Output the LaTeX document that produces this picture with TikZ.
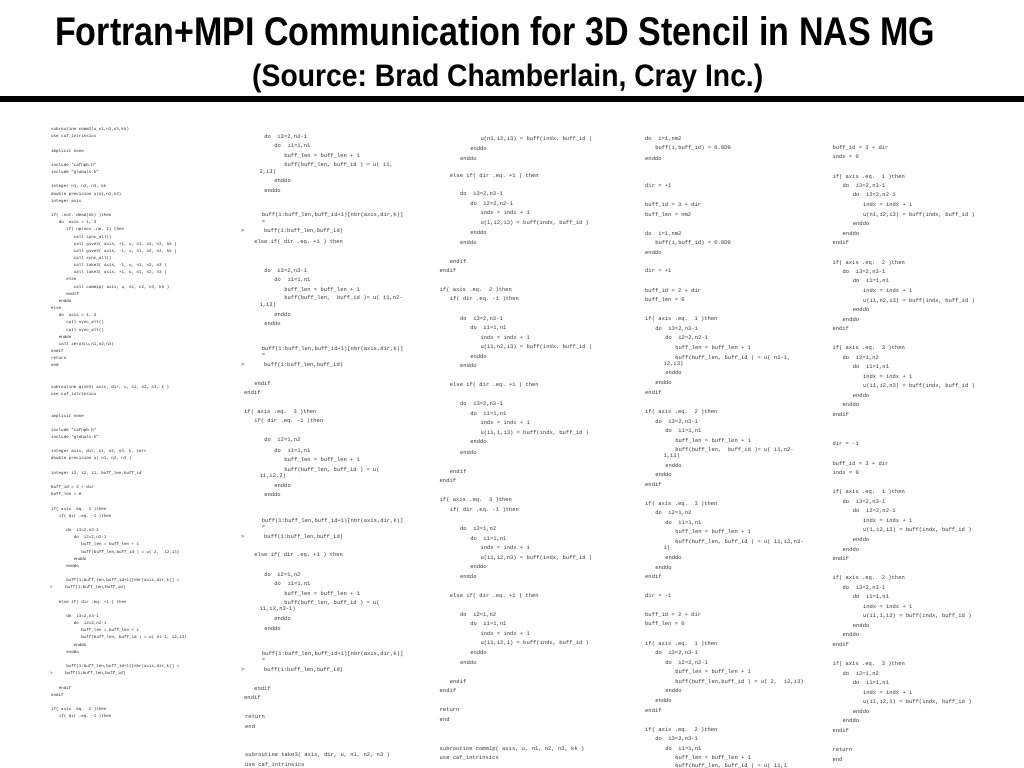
\documentclass[tikz,border=0pt]{standalone}
\usepackage{fontspec}
\setmainfont{Liberation Sans}
\setmonofont{Liberation Mono}
\usepackage{graphicx}
\frenchspacing
\begin{document}
\begin{tikzpicture}[x=1bp,y=-1bp,
  codeA/.style={font=\ttfamily\fontsize{4.2}{5}\selectfont,anchor=mid west,inner sep=0pt,text=black!85},
  codeB/.style={font=\ttfamily\fontsize{5.5}{6}\selectfont,anchor=mid west,inner sep=0pt,text=black!80},
  heading/.style={anchor=base west,inner sep=0pt,text=black}]
\useasboundingbox (0,0) rectangle (1024,768);
\fill[white] (0,0) rectangle (1024,768);
% title block
\node[heading] (title) at (55,46) {\resizebox{880bp}{29bp}{\bfseries Fortran+MPI Communication for 3D Stencil in NAS MG}};
\node[heading] (source) at (252,86) {\resizebox{511bp}{22.5bp}{\bfseries (Source: Brad Chamberlain, Cray Inc.)}};
\fill[black] (0,95.5) rectangle (1024,101.5);
% column 1
\foreach \p/\q/\txt [count=\k] in {
0/0/{subroutine comm3(u,n1,n2,n3,kk)},
0/1/{use caf\_intrinsics},
0/3/{implicit none},
0/5/{include "cafnpb.h"},
0/6/{include "globals.h"},
0/8/{integer n1, n2, n3, kk},
0/9/{double precision u(n1,n2,n3)},
0/10/{integer axis},
0/12/{if( .not. dead(kk) )then},
3/13/{do~~axis = 1, 3},
6/14/{if( nprocs .ne. 1) then},
9/15/{call sync\_all()},
9/16/{call give3( axis, +1, u, n1, n2, n3, kk )},
9/17/{call give3( axis, -1, u, n1, n2, n3, kk )},
9/18/{call sync\_all()},
9/19/{call take3( axis, -1, u, n1, n2, n3 )},
9/20/{call take3( axis, +1, u, n1, n2, n3 )},
6/21/{else},
9/22/{call comm1p( axis, u, n1, n2, n3, kk )},
6/23/{endif},
3/24/{enddo},
0/25/{else},
3/26/{do~~axis = 1, 3},
6/27/{call sync\_all()},
6/28/{call sync\_all()},
3/29/{enddo},
3/30/{call zero3(u,n1,n2,n3)},
0/31/{endif},
0/32/{return},
0/33/{end},
0/36/{subroutine give3( axis, dir, u, n1, n2, n3, k )},
0/37/{use caf\_intrinsics},
0/40/{implicit none},
0/42/{include "cafnpb.h"},
0/43/{include "globals.h"},
0/45/{integer axis, dir, n1, n2, n3, k, ierr},
0/46/{double precision u( n1, n2, n3 )},
0/48/{integer i3, i2, i1, buff\_len,buff\_id},
0/50/{buff\_id = 2 + dir},
0/51/{buff\_len = 0},
0/53/{if( axis .eq.~ 1 )then},
3/54/{if( dir .eq. -1 )then},
6/56/{do~~i3=2,n3-1},
9/57/{do~~i2=2,n2-1},
12/58/{buff\_len = buff\_len + 1},
12/59/{buff(buff\_len,buff\_id ) = u( 2,~~i2,i3)},
9/60/{enddo},
6/61/{enddo},
6/63/{buff(1:buff\_len,buff\_id+1)[nbr(axis,dir,k)] =},
-0.4/64/{>~~~~~buff(1:buff\_len,buff\_id)},
3/66/{else if( dir .eq. +1 ) then},
6/68/{do~~i3=2,n3-1},
9/69/{do~~i2=2,n2-1},
12/70/{buff\_len = buff\_len + 1},
12/71/{buff(buff\_len, buff\_id ) = u( n1-1, i2,i3)},
9/72/{enddo},
6/73/{enddo},
6/75/{buff(1:buff\_len,buff\_id+1)[nbr(axis,dir,k)] =},
-0.4/76/{>~~~~~buff(1:buff\_len,buff\_id)},
3/78/{endif},
0/79/{endif},
0/81/{if( axis .eq.~ 2 )then},
3/82/{if( dir .eq. -1 )then}}
  \node[codeA] (a-\k) at ({51+\p*2.52},{128+\q*7.16}) {\txt};
% column 2
\foreach \p/\q/\txt [count=\k] in {
6/135.7/{do~~i3=2,n3-1},
9/145/{do~~i1=1,n1},
12/154.7/{buff\_len = buff\_len + 1},
12/164/{buff(buff\_len, buff\_id ) = u( i1,},
4.6/171/{2,i3)},
9/180.3/{enddo},
6/189.7/{enddo},
5.3/214.3/{buff(1:buff\_len,buff\_id+1)[nbr(axis,dir,k)]},
5.3/220.7/{=},
-0.9/230.3/{>~~~~~~buff(1:buff\_len,buff\_id)},
3/241/{else if( dir .eq. +1 ) then},
6/269.7/{do~~i3=2,n3-1},
9/279.3/{do~~i1=1,n1},
12/288.7/{buff\_len = buff\_len + 1},
12/297.3/{buff(buff\_len,~~buff\_id )= u( i1,n2-},
4.6/304.3/{1,i3)},
9/313.7/{enddo},
6/323/{enddo},
5.3/347.7/{buff(1:buff\_len,buff\_id+1)[nbr(axis,dir,k)]},
5.3/354/{=},
-0.9/363.7/{>~~~~~~buff(1:buff\_len,buff\_id)},
3/382.7/{endif},
0/391.7/{endif},
0/411/{if( axis .eq.~ 3 )then},
3/420.3/{if( dir .eq. -1 )then},
6/439.3/{do~~i2=1,n2},
9/450.3/{do~~i1=1,n1},
12/459.3/{buff\_len = buff\_len + 1},
12/469/{buff(buff\_len, buff\_id ) = u(},
4.6/475/{i1,i2,2)},
9/484.7/{enddo},
6/494/{enddo},
5.3/520/{buff(1:buff\_len,buff\_id+1)[nbr(axis,dir,k)]},
5.3/526/{=},
-0.9/535.7/{>~~~~~~buff(1:buff\_len,buff\_id)},
3/554.3/{else if( dir .eq. +1 ) then},
6/573.7/{do~~i2=1,n2},
9/583.3/{do~~i1=1,n1},
12/592.7/{buff\_len = buff\_len + 1},
12/602.3/{buff(buff\_len, buff\_id ) = u(},
4.6/608.3/{i1,i2,n3-1)},
9/618.3/{enddo},
6/627.7/{enddo},
5.3/653.3/{buff(1:buff\_len,buff\_id+1)[nbr(axis,dir,k)]},
5.3/659.3/{=},
-0.9/668.7/{>~~~~~~buff(1:buff\_len,buff\_id)},
3/687.7/{endif},
0/697.3/{endif},
0.3/716/{return},
0.3/725.7/{end},
0.3/754/{subroutine take3( axis, dir, u, n1, n2, n3 )},
0.3/763.7/{use caf\_intrinsics}}
  \node[codeB] (b-\k) at ({244+\p*3.35},\q) {\txt};
% column 3
\foreach \p/\q/\txt [count=\k] in {
12/137.7/{u(n1,i2,i3) = buff(indx, buff\_id )},
9/148.3/{enddo},
6/157.7/{enddo},
3/175/{else if( dir .eq. +1 ) then},
6/193.3/{do~~i3=2,n3-1},
9/203.3/{do~~i2=2,n2-1},
12/212.3/{indx = indx + 1},
12/222.3/{u(1,i2,i3) = buff(indx, buff\_id )},
9/232.3/{enddo},
6/241.7/{enddo},
3/261/{endif},
0/270.3/{endif},
0/289.3/{if( axis .eq.~ 2 )then},
3/298.3/{if( dir .eq. -1 )then},
6/317.7/{do~~i3=2,n3-1},
9/327/{do~~i1=1,n1},
12/336.7/{indx = indx + 1},
12/346/{u(i1,n2,i3) = buff(indx, buff\_id )},
9/355.7/{enddo},
6/365/{enddo},
3/384.3/{else if( dir .eq. +1 ) then},
6/403.3/{do~~i3=2,n3-1},
9/412.7/{do~~i1=1,n1},
12/422.3/{indx = indx + 1},
12/431.7/{u(i1,1,i3) = buff(indx, buff\_id )},
9/441.3/{enddo},
6/451.7/{enddo},
3/470.7/{endif},
0/480/{endif},
0/499.3/{if( axis .eq.~ 3 )then},
3/509/{if( dir .eq. -1 )then},
6/528.3/{do~~i2=1,n2},
9/537.7/{do~~i1=1,n1},
12/547.3/{indx = indx + 1},
12/556.7/{u(i1,i2,n3) = buff(indx, buff\_id )},
9/566/{enddo},
6/575.7/{enddo},
3/595/{else if( dir .eq. +1 ) then},
6/614/{do~~i2=1,n2},
9/623.3/{do~~i1=1,n1},
12/633.3/{indx = indx + 1},
12/642.3/{u(i1,i2,1) = buff(indx, buff\_id )},
9/652/{enddo},
6/661.7/{enddo},
3/680.7/{endif},
0/690/{endif},
0/709.3/{return},
0/719/{end},
0/748/{subroutine comm1p( axis, u, n1, n2, n3, kk )},
0/757.3/{use caf\_intrinsics}}
  \node[codeB] (c-\k) at ({439.5+\p*3.4},\q) {\txt};
% column 4
\foreach \p/\q/\txt [count=\k] in {
0/137.7/{do~~i=1,nm2},
3/146.7/{buff(i,buff\_id) = 0.0D0},
0/158.3/{enddo},
0/185/{dir = +1},
0/204.3/{buff\_id = 3 + dir},
0/213.7/{buff\_len = nm2},
0/232.7/{do~~i=1,nm2},
3/242.3/{buff(i,buff\_id) = 0.0D0},
0/251.7/{enddo},
0/270.3/{dir = +1},
0/290/{buff\_id = 2 + dir},
0/299/{buff\_len = 0},
0/318.3/{if( axis .eq.~ 1 )then},
3/327.7/{do~~i3=2,n3-1},
6/337.3/{do~~i2=2,n2-1},
9/346.7/{buff\_len = buff\_len + 1},
9/356.7/{buff(buff\_len, buff\_id ) = u( n1-1,},
5.5/363.3/{i2,i3)},
6/372.3/{enddo},
3/382.3/{enddo},
0/391.7/{endif},
0/411/{if( axis .eq.~ 2 )then},
3/420.7/{do~~i3=2,n3-1},
6/430/{do~~i1=1,n1},
9/439.7/{buff\_len = buff\_len + 1},
9/449.3/{buff(buff\_len,~~buff\_id )= u( i1,n2-},
5.5/455/{1,i3)},
6/465/{enddo},
3/474.3/{enddo},
0/483.7/{endif},
0/502.7/{if( axis .eq.~ 3 )then},
3/512.3/{do~~i2=1,n2},
6/522/{do~~i1=1,n1},
9/531.3/{buff\_len = buff\_len + 1},
9/541/{buff(buff\_len, buff\_id ) = u( i1,i2,n3-},
5.5/547.3/{1)},
6/557.3/{enddo},
3/566.7/{enddo},
0/576.3/{endif},
0/595/{dir = -1},
0/614/{buff\_id = 2 + dir},
0/623.3/{buff\_len = 0},
0/642.7/{if( axis .eq.~ 1 )then},
3/652/{do~~i3=2,n3-1},
6/661.7/{do~~i2=2,n2-1},
9/671/{buff\_len = buff\_len + 1},
9/680.7/{buff(buff\_len,buff\_id ) = u( 2,~~i2,i3)},
6/690.3/{enddo},
3/700/{enddo},
0/709.7/{endif},
0/729/{if( axis .eq.~ 2 )then},
3/738.3/{do~~i3=2,n3-1},
6/748/{do~~i1=1,n1},
9/757.3/{buff\_len = buff\_len + 1},
9/765/{buff(buff\_len, buff\_id ) = u( i1,1}}
  \node[codeB] (d-\k) at ({645+\p*3.35},\q) {\txt};
% column 5
\foreach \p/\q/\txt [count=\k] in {
0/146.7/{buff\_id = 3 + dir},
0/156/{indx = 0},
0/175.7/{if( axis .eq.~ 1 )then},
3/185/{do~~i3=2,n3-1},
6/194.3/{do~~i2=2,n2-1},
9/204/{indx = indx + 1},
9/213.7/{u(n1,i2,i3) = buff(indx, buff\_id )},
6/223.3/{enddo},
3/232.7/{enddo},
0/242.3/{endif},
0/261.7/{if( axis .eq.~ 2 )then},
3/271/{do~~i3=2,n3-1},
6/280.3/{do~~i1=1,n1},
9/290/{indx = indx + 1},
9/299.7/{u(i1,n2,i3) = buff(indx, buff\_id )},
6/309.3/{enddo},
3/318.7/{enddo},
0/328.3/{endif},
0/347.3/{if( axis .eq.~ 3 )then},
3/356.7/{do~~i2=1,n2},
6/366.3/{do~~i1=1,n1},
9/375.7/{indx = indx + 1},
9/385.3/{u(i1,i2,n3) = buff(indx, buff\_id )},
6/395/{enddo},
3/404.3/{enddo},
0/414/{endif},
0/443.3/{dir = -1},
0/462.7/{buff\_id = 3 + dir},
0/472/{indx = 0},
0/491.3/{if( axis .eq.~ 1 )then},
3/500.7/{do~~i3=2,n3-1},
6/510.3/{do~~i2=2,n2-1},
9/520/{indx = indx + 1},
9/529.3/{u(1,i2,i3) = buff(indx, buff\_id )},
6/539/{enddo},
3/548.7/{enddo},
0/558/{endif},
0/577/{if( axis .eq.~ 2 )then},
3/586.7/{do~~i3=2,n3-1},
6/596/{do~~i1=1,n1},
9/605.7/{indx = indx + 1},
9/615.3/{u(i1,1,i3) = buff(indx, buff\_id )},
6/625/{enddo},
3/634.3/{enddo},
0/644/{endif},
0/663/{if( axis .eq.~ 3 )then},
3/672.7/{do~~i2=1,n2},
6/682/{do~~i1=1,n1},
9/691.7/{indx = indx + 1},
9/701.3/{u(i1,i2,1) = buff(indx, buff\_id )},
6/711/{enddo},
3/720.3/{enddo},
0/730/{endif},
0/749/{return},
0/758.7/{end}}
  \node[codeB] (e-\k) at ({832.3+\p*3.4},\q) {\txt};
\end{tikzpicture}
\end{document}
